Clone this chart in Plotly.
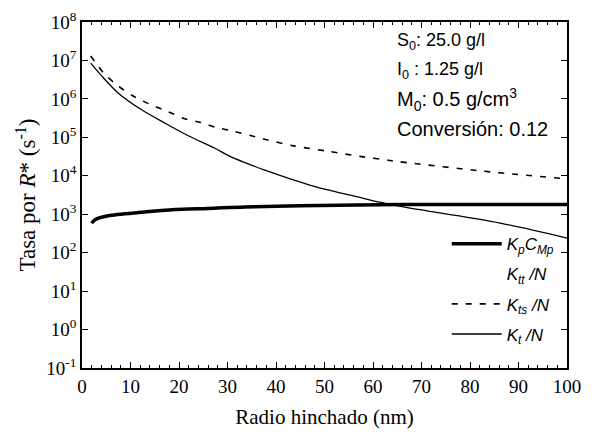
import plotly.graph_objects as go

# Data
radius_kts = [1.8, 4.6, 7.6, 10.9, 14.5, 17.8, 21.0, 24.4, 27.7, 30.9, 37.4, 43.6, 50.4, 57.3, 63.5, 67.0, 82.7, 100.0]
kts_n = [1.3e7, 4.5e6, 2.1e6, 1.12e6, 6.8e5, 4.6e5, 3.1e5, 2.45e5, 1.8e5, 1.48e5, 9.1e4, 6.0e4, 4.4e4, 3.2e4, 2.5e4, 2.2e4, 1.32e4, 8.3e3]

radius_kt = [1.8, 4.1, 7.5, 12.3, 17.1, 21.9, 27.4, 30.5, 33.6, 37.4, 47.7, 58.0, 61.4, 65.6, 86.2, 100.0]
kt_n = [8.5e6, 3.9e6, 1.41e6, 5.2e5, 2.34e5, 1.1e5, 5.2e4, 3.2e4, 2.2e4, 1.45e4, 5.4e3, 2.6e3, 2.05e3, 1.6e3, 5.9e2, 2.4e2]

radius_kp = [2.0, 2.7, 5.4, 12.3, 19.2, 26.0, 33.6, 45.0, 65.6, 100.0]
kp_cmp = [590, 720, 910, 1120, 1320, 1410, 1550, 1650, 1780, 1800]

x_ticks = [0, 10, 20, 30, 40, 50, 60, 70, 80, 90, 100]
y_exponents = [-1, 0, 1, 2, 3, 4, 5, 6, 7, 8]
annotation_lines = ["S<sub>0</sub>: 25.0 g/l", "I<sub>0</sub> : 1.25 g/l",
                    "M<sub>0</sub>: 0.5 g/cm<sup>3</sup>", "Conversión: 0.12"]
annotation_sizes = [18, 18, 20, 20]

fig = go.Figure()
fig.add_trace(go.Scatter(x=radius_kp, y=kp_cmp, mode="lines", line=dict(color="black", width=3.5, shape="spline", smoothing=0.8),
                         name="<i>K<sub>p</sub>C<sub>Mp</sub></i>", legendgroup="a"))
fig.add_trace(go.Scatter(x=[None], y=[None], mode="lines", line=dict(color="rgba(0,0,0,0)", width=0),
                         name="<i>K<sub>tt</sub> /N</i>", legendgroup="b"))
fig.add_trace(go.Scatter(x=radius_kts, y=kts_n, mode="lines", line=dict(color="black", width=1.6, dash="6px,8px", shape="spline", smoothing=0.8),
                         name="<i>K<sub>ts</sub> /N</i>", legendgroup="c"))
fig.add_trace(go.Scatter(x=radius_kt, y=kt_n, mode="lines", line=dict(color="black", width=1.3, shape="spline", smoothing=0.8),
                         name="<i>K<sub>t</sub> /N</i>", legendgroup="d"))

for i, (t, s) in enumerate(zip(annotation_lines, annotation_sizes)):
    fig.add_annotation(text=t, xref="paper", yref="paper", x=0.645, y=1 - 0.055 - i * 0.085,
                       xanchor="left", yanchor="middle", showarrow=False,
                       font=dict(family="Liberation Sans, Arial", size=s, color="black"))

axis_common = dict(showline=True, linecolor="black", linewidth=1.5, mirror="ticks", ticks="inside",
                   ticklen=6, tickcolor="black", showgrid=False, zeroline=False, automargin=False,
                   ticklabeloverflow="allow")

fig.update_xaxes(range=[0, 100], tickvals=x_ticks,
                 title=dict(text="Radio hinchado (nm)", font=dict(family="Liberation Serif, Times New Roman", size=21, color="black"), standoff=14),
                 tickfont=dict(family="Liberation Serif, Times New Roman", size=19, color="black"),
                 minor=dict(ticks="inside", ticklen=3, dtick=2, tickcolor="black"),
                 **axis_common)
fig.update_yaxes(type="log", range=[-1, 8],
                 tickvals=[10.0 ** e for e in y_exponents],
                 ticktext=["10<sup>%d</sup>" % e for e in y_exponents],
                 title=dict(text="Tasa por <i>R</i>* (s<sup>-1</sup>)", font=dict(family="Liberation Serif, Times New Roman", size=23, color="black"), standoff=4),
                 tickfont=dict(family="Liberation Serif, Times New Roman", size=19, color="black"),
                 **axis_common)

fig.update_layout(width=591, height=432, margin=dict(l=74, r=32, t=14, b=72),
                  plot_bgcolor="white", paper_bgcolor="white", showlegend=True,
                  legend=dict(x=0.752, y=0.41, xanchor="left", yanchor="top", bgcolor="rgba(0,0,0,0)",
                              font=dict(family="Liberation Sans, Arial", size=17, color="black"),
                              tracegroupgap=5, itemwidth=50))

fig.write_html("out.html")
